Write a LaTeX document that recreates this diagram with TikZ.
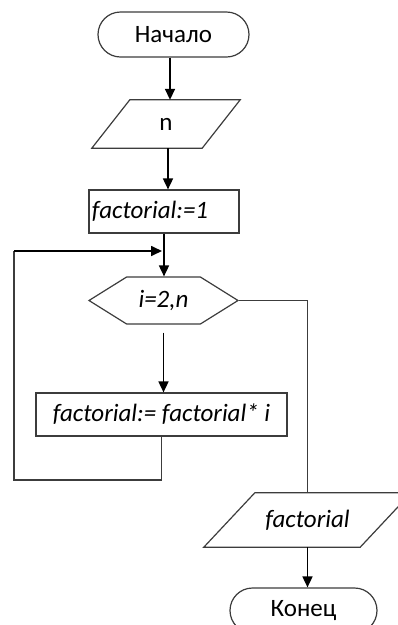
\documentclass[tikz,border=0pt]{standalone}
\usepackage{fontspec}
\setmainfont{Carlito}
\usetikzlibrary{shapes.geometric, shapes.misc, shapes.symbols, arrows.meta}
\definecolor{frame}{RGB}{60,60,60}
\tikzstyle{term}=[rounded rectangle, draw=frame, line width=1.2pt, minimum width=151pt, minimum height=45pt, inner sep=0pt]
\tikzstyle{io}=[rectangle, inner sep=0pt]
\tikzstyle{ioframe}=[draw=frame, line width=1.2pt]
\tikzstyle{proc}=[rectangle, draw=frame, line width=1.2pt, minimum height=43pt, inner sep=3pt]
\tikzstyle{cycle}=[signal, signal to=east and west, signal pointer angle=64, draw=frame, line width=1.2pt, minimum width=149pt, minimum height=47pt, inner sep=0pt]
\tikzstyle{line}=[black, line width=1.7pt, -{Triangle[length=11pt,width=10pt]}]
\tikzstyle{wire}=[frame, line width=1.4pt]

\begin{document}
\begin{tikzpicture}[x=1pt, y=-1pt, font=\fontsize{25}{30}\selectfont]
			\useasboundingbox (0,0) rectangle (397,625);
			% blocks
			\node[term] (start) at (173.5,34.5) {Начало};
			\node[io, minimum width=110pt, minimum height=48pt] (n) at (166,124) {n};
			\draw[ioframe] ([xshift=-19pt]n.south west) -- ([xshift=19pt]n.north west) -- ([xshift=19pt]n.north east) -- ([xshift=-19pt]n.south east) -- cycle;
			\node[proc, minimum width=150pt, text width=144pt, align=left] (init) at (164,211.5) {\itshape factorial:=1};
			\node[cycle] (loop) at (163.5,300.5) {\itshape i=2,n};
			\node[proc, minimum width=251pt] (body) at (161.5,414.5) {\itshape factorial:= factorial* i};
			\node[io, minimum width=156pt, minimum height=54pt] (out) at (307.5,520) {\itshape factorial};
			\draw[ioframe] ([xshift=-25.5pt]out.south west) -- ([xshift=25.5pt]out.north west) -- ([xshift=25.5pt]out.north east) -- ([xshift=-25.5pt]out.south east) -- cycle;
			\node[term, minimum width=147pt] (stop) at (303.5,610.5) {Конец};
			% loop corners
			\coordinate (back) at (14,480);
			\coordinate (up) at (14,251);
			\coordinate (join) at (162,251);
			% arrows
			\draw[line] ([xshift=-3.5pt]start.south) -- ([xshift=-3.5pt]start.south |- n.north);
			\draw[line] ([xshift=2pt]n.south) -- ([xshift=2pt]n.south |- init.north);
			\draw[line] (init.south) -- (init.south |- loop.north);
			\draw[line, shorten <=8pt] (loop.south) -- (loop.south |- body.north);
			\draw[wire] (body.south) |- (back) -- (up);
			\draw[line] (up) -- (join);
			\draw[wire] (loop.east) -| (out.north);
			\draw[line] (out.south) -- (out.south |- stop.north);
		\end{tikzpicture}
\end{document}
